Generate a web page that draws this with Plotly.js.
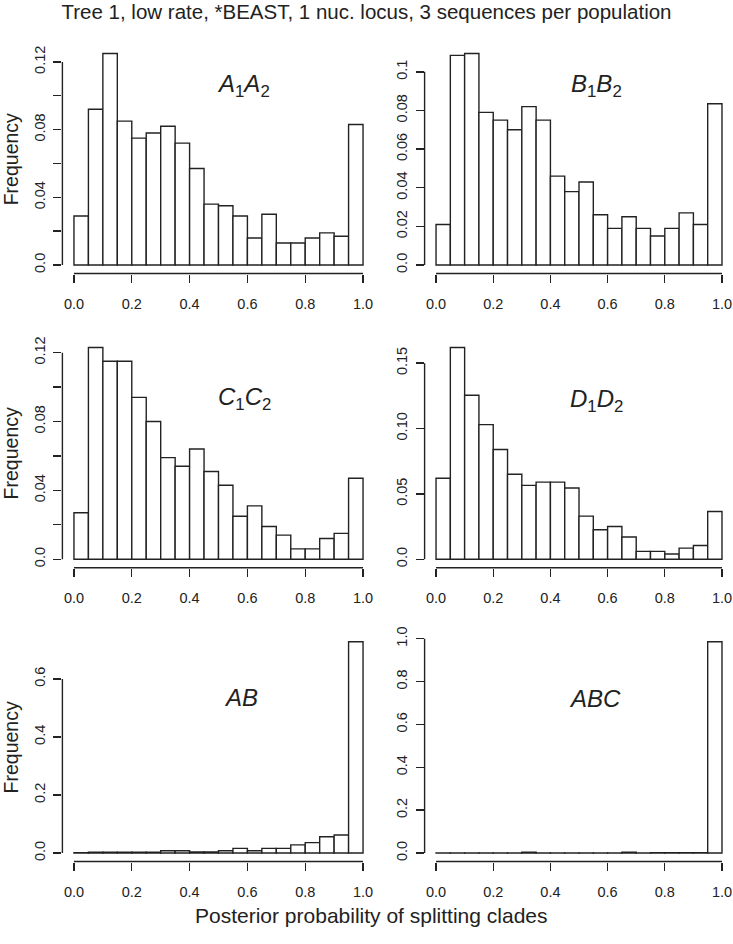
<!DOCTYPE html>
<html>
<head>
<meta charset="utf-8">
<script src="https://cdn.plot.ly/plotly-3.0.1.min.js"></script>
<style>html,body{margin:0;padding:0;background:#fff;}#chart{width:733px;height:944px;}</style>
</head>
<body>
<div id="chart"></div>
<script>
// Bin left edges (width 0.05)
const binStart = [0, 0.05, 0.1, 0.15, 0.2, 0.25, 0.3, 0.35, 0.4, 0.45, 0.5, 0.55, 0.6, 0.65, 0.7, 0.75, 0.8, 0.85, 0.9, 0.95];
const binWidth = 0.05;

// Frequencies per panel
const a1a2 = [0.029, 0.092, 0.125, 0.085, 0.075, 0.078, 0.082, 0.072, 0.057, 0.036, 0.035, 0.029, 0.016, 0.030, 0.013, 0.013, 0.016, 0.019, 0.017, 0.083];
const b1b2 = [0.021, 0.1085, 0.1095, 0.079, 0.075, 0.070, 0.082, 0.075, 0.046, 0.038, 0.043, 0.026, 0.019, 0.025, 0.019, 0.015, 0.019, 0.027, 0.021, 0.0835];
const c1c2 = [0.027, 0.123, 0.115, 0.115, 0.094, 0.080, 0.059, 0.054, 0.064, 0.051, 0.043, 0.025, 0.031, 0.019, 0.014, 0.006, 0.006, 0.012, 0.015, 0.047];
const d1d2 = [0.062, 0.162, 0.1255, 0.103, 0.084, 0.065, 0.0565, 0.059, 0.059, 0.0545, 0.033, 0.0225, 0.025, 0.017, 0.006, 0.006, 0.004, 0.0085, 0.0105, 0.0365];
const ab   = [0.001, 0.003, 0.003, 0.003, 0.003, 0.003, 0.008, 0.008, 0.004, 0.004, 0.008, 0.016, 0.008, 0.016, 0.016, 0.028, 0.036, 0.056, 0.062, 0.728];
const abc  = [0.0005, 0.0005, 0.0005, 0.0005, 0.0005, 0.0005, 0.004, 0.0005, 0.0005, 0.0005, 0.0005, 0.0005, 0.0005, 0.004, 0.0005, 0.002, 0.002, 0.002, 0.002, 0.986];

// Panel labels
const panelLabels = [
  "<i>A</i><sub>1</sub><i>A</i><sub>2</sub>",
  "<i>B</i><sub>1</sub><i>B</i><sub>2</sub>",
  "<i>C</i><sub>1</sub><i>C</i><sub>2</sub>",
  "<i>D</i><sub>1</sub><i>D</i><sub>2</sub>",
  "<i>AB</i>",
  "<i>ABC</i>"
];

// Tick values and labels
const xTickVals = [0, 0.2, 0.4, 0.6, 0.8, 1.0];
const xTickText = ["0.0", "0.2", "0.4", "0.6", "0.8", "1.0"];
const yTickValsA = [0, 0.04, 0.08, 0.12];
const yTickTextA = ["0.0", "0.04", "0.08", "0.12"];
const yMinorA = [0.02, 0.06, 0.10];
const yTickValsB = [0, 0.02, 0.04, 0.06, 0.08, 0.10];
const yTickTextB = ["0.0", "0.02", "0.04", "0.06", "0.08", "0.1"];
const yTickValsC = [0, 0.04, 0.08, 0.12];
const yTickTextC = ["0.0", "0.04", "0.08", "0.12"];
const yMinorC = [0.02, 0.06, 0.10];
const yTickValsD = [0, 0.05, 0.10, 0.15];
const yTickTextD = ["0.0", "0.05", "0.10", "0.15"];
const yTickValsAB = [0, 0.2, 0.4, 0.6];
const yTickTextAB = ["0.0", "0.2", "0.4", "0.6"];
const yTickValsABC = [0, 0.2, 0.4, 0.6, 0.8, 1.0];
const yTickTextABC = ["0.0", "0.2", "0.4", "0.6", "0.8", "1.0"];

const titleText = "Tree 1, low rate, *BEAST, 1 nuc. locus, 3 sequences per population";
const yTitleText = "Frequency";
const xTitleText = "Posterior probability of splitting clades";

// ---------- layout ----------
const W = 733, H = 944;
const FONT = '"Liberation Sans", Arial, Helvetica, sans-serif';
const INK = '#222';
const TICKFS = 14.5;
const colDomains = [[62.4 / W, 374.6 / W], [424.6 / W, 1]];
const rowDomains = [[1 - 273.5 / H, 1 - 45 / H], [1 - 567.7 / H, 1 - 339 / H], [1 - 861.5 / H, 1 - 633.3 / H]];
const xRanges = [[-0.04, 1.04], [-0.04, 1.0385]];
const labelPos = [[243 / W, 1 - 86 / H], [596 / W, 1 - 86 / H], [244 / W, 1 - 398 / H], [596 / W, 1 - 400 / H], [241 / W, 1 - 697 / H], [595 / W, 1 - 698 / H]];

const panels = [
  {y: a1a2, tv: yTickValsA, tt: yTickTextA, minor: yMinorA},
  {y: b1b2, tv: yTickValsB, tt: yTickTextB, minor: null},
  {y: c1c2, tv: yTickValsC, tt: yTickTextC, minor: yMinorC},
  {y: d1d2, tv: yTickValsD, tt: yTickTextD, minor: null},
  {y: ab, tv: yTickValsAB, tt: yTickTextAB, minor: null},
  {y: abc, tv: yTickValsABC, tt: yTickTextABC, minor: null}
];

const traces = [];
const layout = {
  width: W, height: H,
  margin: {l: 0, r: 0, t: 0, b: 0},
  paper_bgcolor: '#fff', plot_bgcolor: '#fff',
  showlegend: false,
  font: {family: FONT, color: INK, size: 13},
  title: {text: titleText, font: {family: FONT, size: 20.5, color: INK}, x: 0.5, xanchor: 'center', xref: 'paper', y: 1 - 12 / H, yanchor: 'middle', yref: 'paper'},
  shapes: [],
  annotations: []
};

panels.forEach((p, i) => {
  const n = i + 1;
  const col = i % 2, row = Math.floor(i / 2);
  const xa = 'x' + (n === 1 ? '' : n), ya = 'y' + (n === 1 ? '' : n);
  const xKey = 'xaxis' + (n === 1 ? '' : n), yKey = 'yaxis' + (n === 1 ? '' : n);
  const ymax = Math.max(...p.y);
  traces.push({
    type: 'bar', x: binStart, y: p.y, width: binWidth, offset: 0,
    xaxis: xa, yaxis: ya,
    marker: {color: '#fff', line: {color: INK, width: 1.4}},
    hoverinfo: 'x+y'
  });
  layout[xKey] = {
    domain: colDomains[col], anchor: ya, range: xRanges[col],
    tickmode: 'array', tickvals: xTickVals, ticktext: xTickText,
    ticks: 'outside', ticklen: 8, tickwidth: 1.4, tickcolor: INK,
    showline: false, showgrid: false, zeroline: false,
    tickfont: {family: FONT, size: TICKFS, color: INK},
    ticklabelstandoff: 9, ticklabeloverflow: 'allow', fixedrange: true
  };
  layout[yKey] = {
    domain: rowDomains[row], anchor: xa, range: [-0.04 * ymax, 1.04 * ymax],
    tickmode: 'array', tickvals: p.tv, ticktext: p.tt, tickangle: -90,
    ticks: 'outside', ticklen: 8, tickwidth: 1.4, tickcolor: INK,
    showline: false, showgrid: false, zeroline: false,
    tickfont: {family: FONT, size: TICKFS, color: INK},
    ticklabelstandoff: 3, ticklabeloverflow: 'allow', fixedrange: true
  };
  if (p.minor) {
    layout[yKey].minor = {tickmode: 'array', tickvals: p.minor, ticks: 'outside', ticklen: 8, tickwidth: 1.4, tickcolor: INK, showgrid: false};
  }
  if (col === 0) {
    layout[yKey].title = {text: yTitleText, font: {family: FONT, size: 19.5, color: INK}, standoff: 11};
  }
  // R-style axis lines spanning first..last tick
  const yAll = p.minor ? p.tv.concat(p.minor) : p.tv;
  layout.shapes.push({type: 'line', xref: xa, yref: ya + ' domain', x0: xTickVals[0], x1: xTickVals[xTickVals.length - 1], y0: 0, y1: 0, line: {color: INK, width: 1.4}});
  layout.shapes.push({type: 'line', xref: xa + ' domain', yref: ya, x0: 0, x1: 0, y0: Math.min(...yAll), y1: Math.max(...yAll), line: {color: INK, width: 1.4}});
  layout.annotations.push({text: panelLabels[i], xref: 'paper', yref: 'paper', x: labelPos[i][0], y: labelPos[i][1], xanchor: 'center', yanchor: 'middle', showarrow: false, font: {family: FONT, size: 24, color: INK}});
});

layout.annotations.push({text: xTitleText, xref: 'paper', yref: 'paper', x: 371 / W, y: 1 - 915 / H, xanchor: 'center', yanchor: 'middle', showarrow: false, font: {family: FONT, size: 21, color: INK}});

Plotly.newPlot('chart', traces, layout, {displayModeBar: false, staticPlot: true});
</script>
</body>
</html>
